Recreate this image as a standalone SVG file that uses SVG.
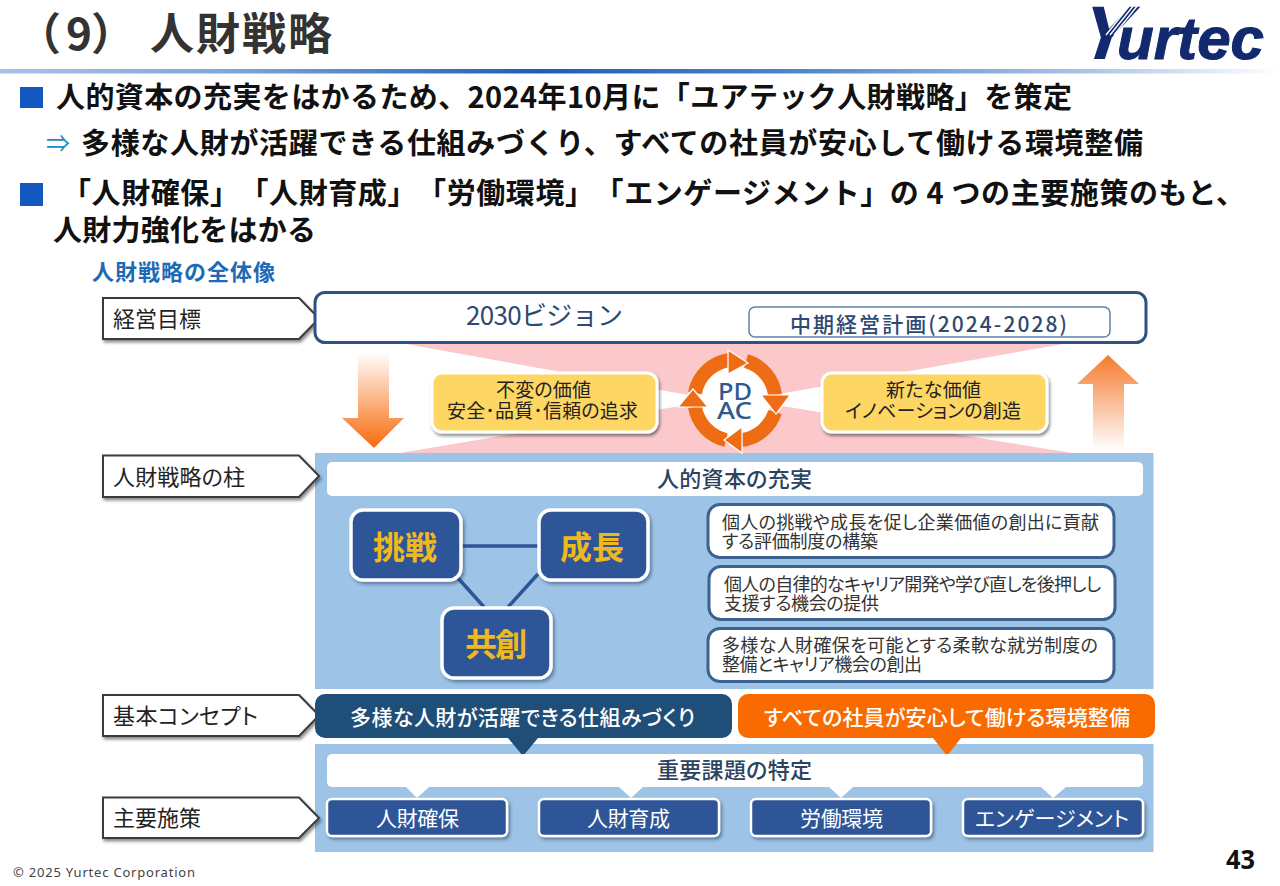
<svg xmlns="http://www.w3.org/2000/svg" width="1280" height="886" viewBox="0 0 1280 886">
<style>
text{font-family:"Noto Sans CJK JP","Noto Sans",sans-serif;text-spacing-trim:space-all}
.h{font-weight:700;font-size:29px;fill:#111}
.lb{font-size:22px;fill:#222;font-feature-settings:"palt"}
.lab{fill:#fff;stroke:#3a3a3a;stroke-width:2;filter:url(#sh)}
.y{fill:#fdd663;stroke:#fff;stroke-width:3;filter:url(#sh)}
.yt{font-size:19px;fill:#222;font-feature-settings:"palt"}
.n{fill:#2f5597;stroke:#fff;stroke-width:3.5;filter:url(#sh2)}
.nt{font-size:32px;font-weight:700;fill:#efb91e}
.b{fill:#fff;stroke:#3b6290;stroke-width:3}
.bt{font-size:18px;fill:#333;font-feature-settings:"palt"}
.m{fill:#2f5597;stroke:#fff;stroke-width:2.5;filter:url(#sh2)}
.mt{font-size:21px;fill:#fff;font-feature-settings:"palt"}
.bar{fill:#fff}
.bart{font-size:22px;fill:#2b4260;font-weight:500;font-feature-settings:"palt"}
.panel{fill:#9dc3e6}
.ring{fill:none;stroke:#ee6c14;stroke-width:14}
.head{fill:#ee6c14;stroke:#fff;stroke-width:1.2}
.link{stroke:#2f5597;stroke-width:3.5;fill:none}
.ct{font-size:21px;fill:#fff;font-weight:500;font-feature-settings:"palt"}
.logo{font-family:"Liberation Sans",sans-serif;font-weight:700;fill:#12296e}
.pd{font-family:"Noto Sans",sans-serif;font-size:24px;font-weight:500;fill:#2f5a8f}
</style>
<defs>
<linearGradient id="rule" x1="0" x2="1" y1="0" y2="0">
<stop offset="0" stop-color="#a6c3e6"/><stop offset=".18" stop-color="#7ea6d8"/><stop offset=".42" stop-color="#1f5db5"/><stop offset=".62" stop-color="#4f85c9"/><stop offset=".85" stop-color="#a9c5e6"/><stop offset="1" stop-color="#fff"/>
</linearGradient>
<linearGradient id="down" x1="0" x2="0" y1="0" y2="1"><stop offset="0" stop-color="#fff"/><stop offset="1" stop-color="#f8690b"/></linearGradient>
<linearGradient id="up" x1="0" x2="0" y1="1" y2="0"><stop offset="0" stop-color="#fff"/><stop offset="1" stop-color="#f57a2c"/></linearGradient>
<filter id="sh" x="-10%" y="-20%" width="125%" height="150%"><feDropShadow dx="1.5" dy="2.5" stdDeviation="1.5" flood-color="#000" flood-opacity=".45"/></filter>
<filter id="sh2" x="-10%" y="-20%" width="125%" height="150%"><feDropShadow dx="2" dy="2.5" stdDeviation="1.5" flood-color="#1f3a60" flood-opacity=".5"/></filter>
</defs>

<g id="header">
<text x="17" y="50" font-size="44" font-weight="700" fill="#333">（</text>
<text x="66" y="50" font-size="44" font-weight="700" fill="#333">9</text>
<text x="91" y="50" font-size="44" font-weight="700" fill="#333">）</text>
<text x="150" y="50" font-size="44" font-weight="700" fill="#333" textLength="182" lengthAdjust="spacing">人財戦略</text>
<rect x="0" y="69" width="1280" height="4.500" fill="url(#rule)"/>
<g id="logo">
<text class="logo" transform="translate(1074,59) skewX(-18)" font-size="76">Y</text>
<path d="M1130 5L1106 35M1134 5L1110 35M1138 5L1114 35" stroke="#fff" stroke-width="1.400" fill="none"/>
<text class="logo" x="1117" y="59" font-size="60" font-style="italic" textLength="147" lengthAdjust="spacingAndGlyphs" stroke="#12296e" stroke-width="1">urtec</text>
</g>
</g>

<g id="intro">
<rect x="20" y="87" width="23" height="21" fill="#1458bf"/>
<text class="h" x="56" y="108" textLength="1016" lengthAdjust="spacing">人的資本の充実をはかるため、2024年10月に「ユアテック人財戦略」を策定</text>
<text x="46" y="152" font-size="24" fill="#1f8ac0">⇒</text>
<text class="h" x="81" y="154" textLength="1062" lengthAdjust="spacing">多様な人財が活躍できる仕組みづくり、すべての社員が安心して働ける環境整備</text>
<rect x="20" y="183" width="23" height="23" fill="#1458bf"/>
<text class="h" x="62" y="204" textLength="1183" lengthAdjust="spacing">「人財確保」「人財育成」「労働環境」「エンゲージメント」の 4 つの主要施策のもと、</text>
<text class="h" x="53" y="241" textLength="263" lengthAdjust="spacing">人財力強化をはかる</text>
<text x="92" y="280" font-size="22" font-weight="700" fill="#1f6ab5" textLength="183" lengthAdjust="spacing">人財戦略の全体像</text>
</g>

<g id="backdrop">
<polygon points="400,343 1069,343 745,400 1072,453 400,453 716,400" fill="#fbc9cc"/>
<rect class="panel" x="315" y="453" width="838.500" height="236"/>
<rect class="panel" x="315" y="744" width="838.500" height="108"/>
</g>

<g id="arrow-down"><polygon points="358,352 389,352 389,418 404,418 374,448 342,418 358,418" fill="url(#down)"/></g>
<g id="arrow-up"><polygon points="1108,355 1139,384 1124,384 1124,450 1093,450 1093,384 1077,384" fill="url(#up)"/></g>

<g id="label-goal"><polygon class="lab" points="103,298 299,298 319,318.500 299,339 103,339"/><text class="lb" x="113" y="327" textLength="88" lengthAdjust="spacing">経営目標</text></g>
<g id="vision">
<rect x="315" y="292.500" width="831" height="50" rx="10" fill="#fff" stroke="#2f5286" stroke-width="3"/>
<text x="466" y="325" font-size="26" fill="#2f4a72" textLength="157" lengthAdjust="spacing">2030ビジョン</text>
<rect x="749" y="307" width="361" height="30" rx="6" fill="#fff" stroke="#5f83a8" stroke-width="1.500"/>
<text x="790" y="332" font-size="21" fill="#2f4a72" font-weight="500" textLength="277" lengthAdjust="spacing">中期経営計画(2024-2028)</text>
</g>

<g id="value-left"><rect class="y" x="432" y="373" width="225" height="59" rx="10"/>
<text class="yt" x="496" y="397" textLength="95" lengthAdjust="spacing">不変の価値</text>
<text class="yt" x="447" y="418" textLength="191" lengthAdjust="spacing">安全･品質･信頼の追求</text></g>
<g id="value-right"><rect class="y" x="822" y="373" width="225" height="59" rx="10"/>
<text class="yt" x="886" y="397" textLength="95" lengthAdjust="spacing">新たな価値</text>
<text class="yt" x="845" y="418" textLength="176" lengthAdjust="spacing">イノベーションの創造</text></g>

<g id="pdca">
<circle cx="735" cy="400" r="36" fill="#fff"/>
<path class="ring" d="M695 393A40.500 40.500 0 0 1 730 360"/>
<path class="ring" d="M746 361A40.500 40.500 0 0 1 775 395"/>
<path class="ring" d="M775 412A40.500 40.500 0 0 1 742 440"/>
<path class="ring" d="M726 440A40.500 40.500 0 0 1 695 407"/>
<polygon class="head" points="728,350 748,363 728,374"/>
<polygon class="head" points="761,395 790,395 776,414"/>
<polygon class="head" points="742,427 724,440 742,453"/>
<polygon class="head" points="693,389 678,407 708,407"/>
<text class="pd" x="718" y="400" textLength="34" lengthAdjust="spacingAndGlyphs">PD</text>
<text class="pd" x="717" y="419" textLength="35" lengthAdjust="spacingAndGlyphs">AC</text>
</g>

<g id="label-pillar"><polygon class="lab" points="103,455.500 299,455.500 319,476 299,497 103,497"/><text class="lb" x="113" y="485" textLength="132" lengthAdjust="spacing">人財戦略の柱</text></g>
<g id="pillar-title"><rect class="bar" x="327" y="462" width="816" height="34" rx="5"/><text class="bart" x="657" y="487" textLength="155" lengthAdjust="spacing">人的資本の充実</text></g>

<g id="connectors">
<line class="link" x1="462" y1="546" x2="538" y2="546"/>
<line class="link" x1="458" y1="578" x2="484" y2="607"/>
<line class="link" x1="538" y1="574" x2="508" y2="607"/>
</g>

<g id="node-challenge"><rect class="n" x="351" y="510" width="110" height="70" rx="12"/><text class="nt" x="373" y="559" textLength="64" lengthAdjust="spacing">挑戦</text></g>
<g id="node-growth"><rect class="n" x="539" y="510" width="109" height="70" rx="12"/><text class="nt" x="560" y="559" textLength="64" lengthAdjust="spacing">成長</text></g>
<g id="node-cocreate"><rect class="n" x="442" y="608" width="109" height="70" rx="12"/><text class="nt" x="465" y="656" textLength="62" lengthAdjust="spacing">共創</text></g>

<g id="policy-1"><rect class="b" x="708" y="504.500" width="406" height="53" rx="12"/>
<text class="bt" x="722" y="529" textLength="377" lengthAdjust="spacing">個人の挑戦や成長を促し企業価値の創出に貢献</text>
<text class="bt" x="722" y="548" textLength="156" lengthAdjust="spacing">する評価制度の構築</text></g>
<g id="policy-2"><rect class="b" x="709" y="566.500" width="406" height="53" rx="12"/>
<text class="bt" x="724" y="591" textLength="377" lengthAdjust="spacing">個人の自律的なキャリア開発や学び直しを後押しし</text>
<text class="bt" x="724" y="610" textLength="155" lengthAdjust="spacing">支援する機会の提供</text></g>
<g id="policy-3"><rect class="b" x="708" y="628.500" width="406" height="53" rx="12"/>
<text class="bt" x="722" y="652" textLength="376" lengthAdjust="spacing">多様な人財確保を可能とする柔軟な就労制度の</text>
<text class="bt" x="722" y="671" textLength="200" lengthAdjust="spacing">整備とキャリア機会の創出</text></g>

<g id="label-concept"><polygon class="lab" points="103,695 299,695 319,715.500 299,736 103,736"/><text class="lb" x="113" y="724" textLength="145" lengthAdjust="spacing">基本コンセプト</text></g>
<g id="concept-left"><rect x="315" y="694" width="417" height="44" rx="10" fill="#1f4e79"/><polygon points="508,738 538,738 523,756" fill="#1f4e79"/>
<text class="ct" x="350" y="725" textLength="345" lengthAdjust="spacing">多様な人財が活躍できる仕組みづくり</text></g>
<g id="concept-right"><rect x="738" y="694" width="417" height="44" rx="10" fill="#f96b00"/><polygon points="933,738 961,738 947,756" fill="#f96b00"/>
<text class="ct" x="764" y="725" textLength="366" lengthAdjust="spacing">すべての社員が安心して働ける環境整備</text></g>

<g id="issues"><rect class="bar" x="327" y="754" width="816" height="33" rx="5"/><text class="bart" x="657" y="778" textLength="155" lengthAdjust="spacing">重要課題の特定</text>
<polygon class="bar" points="406,787 429,787 417,798"/><polygon class="bar" points="619,787 643,787 631,798"/><polygon class="bar" points="829,787 853,787 841,798"/><polygon class="bar" points="1041,787 1066,787 1053,798"/></g>

<g id="label-measures"><polygon class="lab" points="103,797.500 299,797.500 319,818 299,838 103,838"/><text class="lb" x="113" y="826" textLength="88" lengthAdjust="spacing">主要施策</text></g>
<g id="measure-1"><rect class="m" x="327" y="799" width="180" height="37" rx="5"/><text class="mt" x="376" y="826" textLength="83" lengthAdjust="spacing">人財確保</text></g>
<g id="measure-2"><rect class="m" x="539" y="799" width="180" height="37" rx="5"/><text class="mt" x="587" y="826" textLength="83" lengthAdjust="spacing">人財育成</text></g>
<g id="measure-3"><rect class="m" x="751" y="799" width="180" height="37" rx="5"/><text class="mt" x="800" y="826" textLength="83" lengthAdjust="spacing">労働環境</text></g>
<g id="measure-4"><rect class="m" x="963" y="799" width="180" height="37" rx="5"/><text class="mt" x="975" y="826" textLength="154" lengthAdjust="spacing">エンゲージメント</text></g>

<g id="footer">
<text x="13" y="877" font-size="13" fill="#444" textLength="182" lengthAdjust="spacing" style="font-family:'Noto Sans',sans-serif">© 2025 Yurtec Corporation</text>
<text x="1226" y="869" font-size="27" font-weight="700" fill="#111" textLength="29" lengthAdjust="spacingAndGlyphs" style="font-family:'Noto Sans',sans-serif">43</text>
</g>
</svg>
